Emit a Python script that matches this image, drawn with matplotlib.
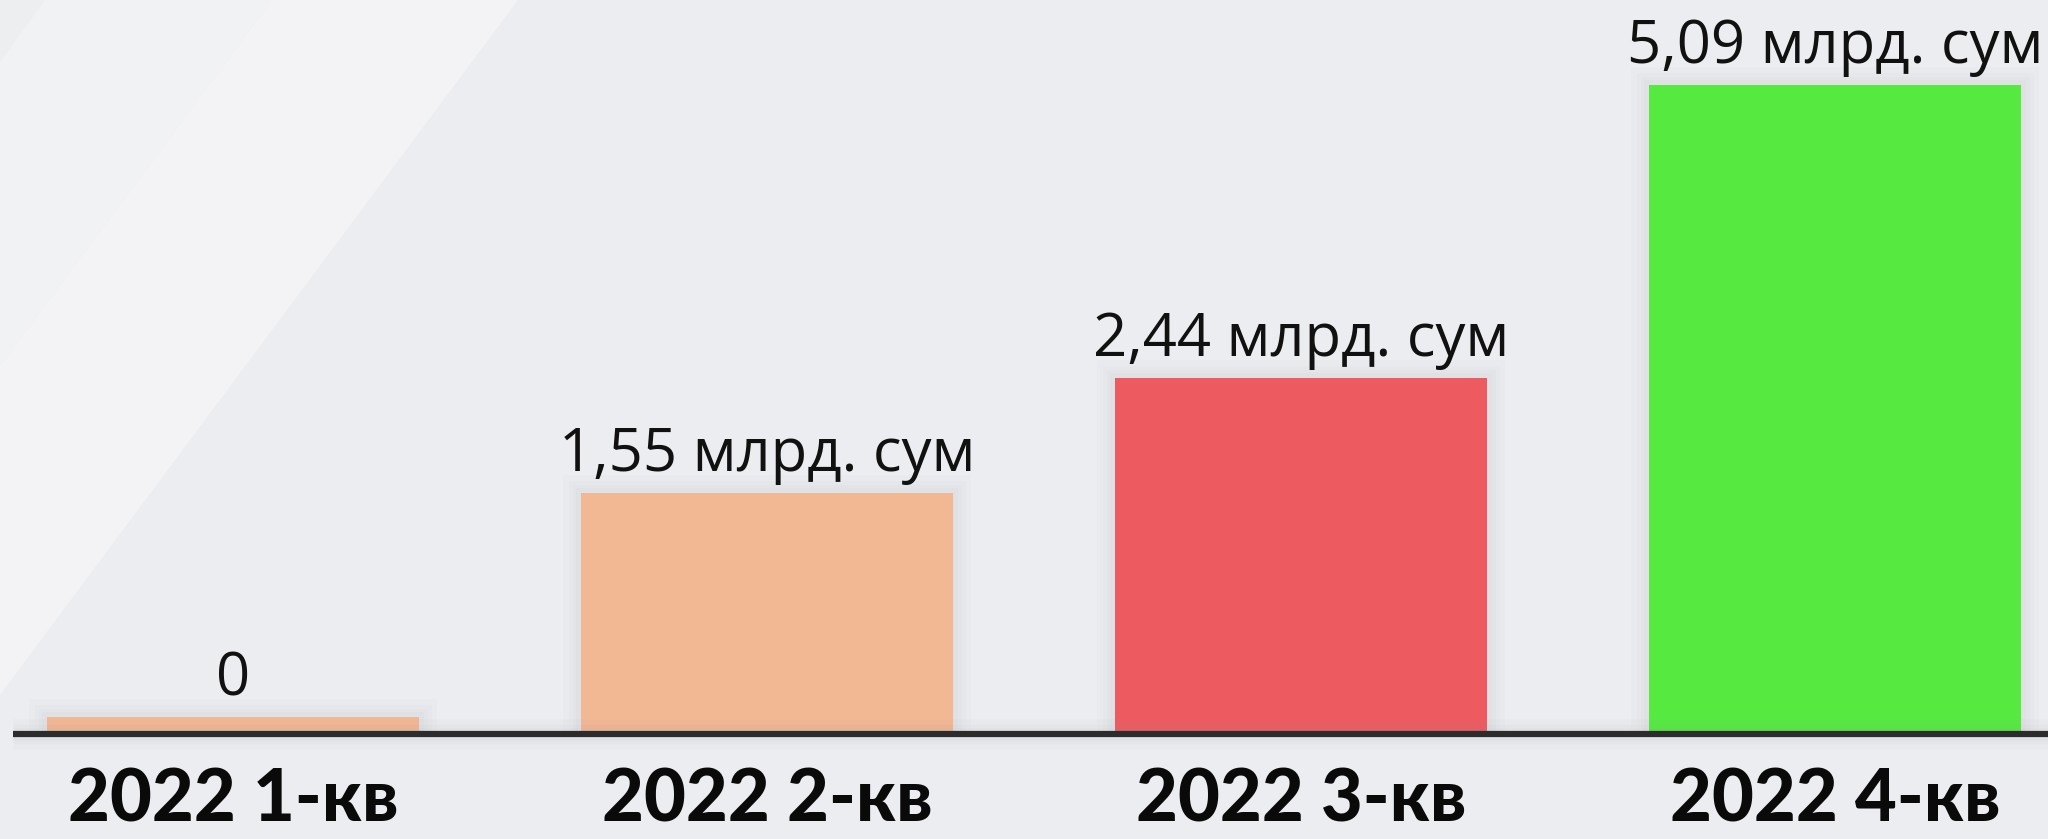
import matplotlib
matplotlib.use("Agg")
import matplotlib.pyplot as plt
from matplotlib.patches import Polygon
import matplotlib.patheffects as pe

# ----------------------------
# data (bar heights as drawn in the picture, labels as printed)
# ----------------------------
quarters = ["2022 1-кв", "2022 2-кв", "2022 3-кв", "2022 4-кв"]
bar_heights = [0.13, 1.89, 2.79, 5.09]
value_labels = ["0", "1,55 млрд. сум", "2,44 млрд. сум", "5,09 млрд. сум"]
bar_colors = ["#F2B894", "#F2B894", "#ED5A60", "#56EA41"]

W, H = 2048, 839
BASE_PX = 105          # axis baseline, pixels from bottom
UNIT_PX = 127.5        # pixels per unit of height
BG = "#ECEDF0"

fig = plt.figure(figsize=(W / 100, H / 100), dpi=100)
fig.patch.set_facecolor(BG)

# ----------------------------
# background with soft diagonal bands
# ----------------------------
bg = fig.add_axes([0, 0, 1, 1], zorder=0)
bg.set_xlim(0, W)
bg.set_ylim(H, 0)
bg.axis("off")
bg.add_patch(Polygon([(0, 0), (272, 0), (0, 366)], closed=True, color="#F1F2F3", lw=0))
bg.add_patch(Polygon([(272, 0), (518, 0), (0, 695), (0, 366)], closed=True, color="#F3F3F5", lw=0))
bg.add_patch(Polygon([(0, 0), (45, 0), (0, 62)], closed=True, color="#EDEEF0", lw=0))

# ----------------------------
# bars
# ----------------------------
ax = fig.add_axes([0, BASE_PX / H, 1, 1 - BASE_PX / H], zorder=1)
ax.patch.set_alpha(0)
x = list(range(len(quarters)))
ax.set_xlim(-233 / 534, (W - 233) / 534)
ax.set_ylim(0, (H - BASE_PX) / UNIT_PX)

glow = [pe.Stroke(linewidth=w, foreground="#9a9ca3", alpha=0.035) for w in (26, 18, 12, 7)]
bars = ax.bar(x, bar_heights, width=0.698, color=bar_colors, linewidth=0, zorder=2)
for b in bars:
    b.set_path_effects(glow + [pe.Normal()])

for xi, h, lab in zip(x, bar_heights, value_labels):
    ax.annotate(lab, (xi, h), xytext=(0, 22), textcoords="offset pixels",
                ha="center", va="baseline", fontsize=43, family="Open Sans",
                color="#111111", zorder=3)

# axis line
ax.axhline(0, xmin=13 / W, xmax=1, color="#2c2c2c", linewidth=4.5, zorder=4,
           clip_on=False, solid_capstyle="butt",
           path_effects=[pe.Stroke(linewidth=w, foreground="#9a9ca3", alpha=0.04) for w in (22, 14, 9)] + [pe.Normal()])

ax.set_xticks(x)
ax.set_xticklabels(quarters, fontsize=52, family="Lato", fontweight="black", color="#0a0a0a")
ax.tick_params(axis="x", length=0, pad=24)
ax.set_yticks([])
for s in ax.spines.values():
    s.set_visible(False)

fig.savefig("out.png", dpi=100, facecolor=fig.get_facecolor())
